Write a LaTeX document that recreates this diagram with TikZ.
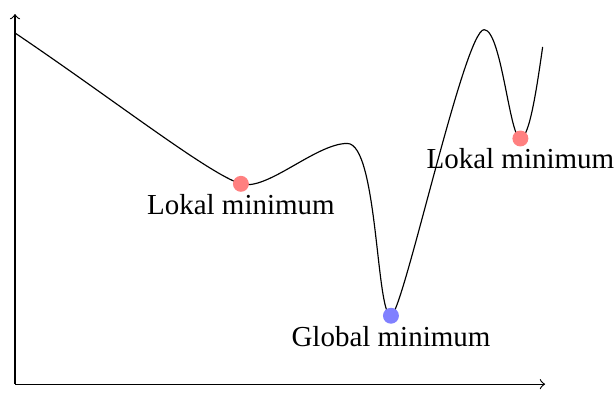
\documentclass[tikz,border=0pt]{standalone}
\usepackage{fontspec}
\setmainfont{Liberation Serif}
\usetikzlibrary{positioning}
\begin{document}
\begin{tikzpicture}[
    minpoint/.style={circle, fill=#1, inner sep=0pt, minimum size=5.5pt},
    minlabel/.style={below, inner sep=3.33pt}
  ]
    \useasboundingbox (-0.182,-0.121) rectangle (7.29,4.66);

    % Axes
    \coordinate (o) at (0,0);
    \coordinate (x_end) at (6.43,0);
    \coordinate (y_end) at (0,4.49);
    \draw[->] (o) -- (x_end);
    \draw[->] (o) -- (y_end);

    % Curve
    \draw (0,4.26) .. controls (1.2,3.45) and (2.35,2.55) .. (2.74,2.43)
        .. controls (3.05,2.334) and (3.65,2.92) .. (4.03,2.92)
        .. controls (4.40,2.92) and (4.38,0.83) .. (4.56,0.83)
        .. controls (4.70,0.83) and (5.45,4.30) .. (5.69,4.30)
        .. controls (5.90,4.30) and (6.00,2.98) .. (6.13,2.98)
        .. controls (6.24,2.98) and (6.33,3.60) .. (6.40,4.09);

    % Minima
    \node[minpoint=red!50] (lok_1) at (2.74,2.43) {};
    \node[minpoint=blue!50] (glob) at (4.56,0.83) {};
    \node[minpoint=red!50] (lok_2) at (6.13,2.98) {};

    % Labels
    \node[minlabel] (lbl_lok_1) at (lok_1.center) {Lokal minimum};
    \node[minlabel] (lbl_glob) at (glob.center) {Global minimum};
    \node[minlabel] (lbl_lok_2) at (lok_2.center) {Lokal minimum};
\end{tikzpicture}
\end{document}
